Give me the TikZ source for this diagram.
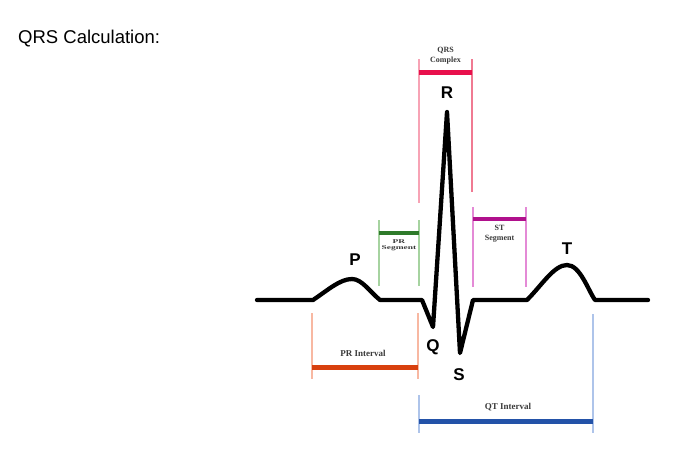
\documentclass[tikz,border=0pt]{standalone}
\usepackage{fontspec}
\setmainfont{Liberation Serif}
\newfontfamily\sansf{Liberation Sans}
\definecolor{qrsbar}{HTML}{E8104C}
\definecolor{qrsline}{HTML}{F7A3B5}
\definecolor{qrsline2}{HTML}{F07A92}
\definecolor{prsbar}{HTML}{2E7A2A}
\definecolor{prsline}{HTML}{A6D3A0}
\definecolor{stbar}{HTML}{B0108C}
\definecolor{stline}{HTML}{E48AD6}
\definecolor{pribar}{HTML}{D8400E}
\definecolor{priline}{HTML}{F8B8A2}
\definecolor{qtbar}{HTML}{2352A8}
\definecolor{qtline}{HTML}{AEC4EA}
\definecolor{lbltext}{HTML}{3A3A3A}
\begin{document}
\begin{tikzpicture}[x=1pt,y=-1pt,
  wave/.style={line width=4.3pt,line join=round,line cap=round,black},
  bar/.style={line width=5pt},
  tick/.style={line width=1.3pt},
  peak/.style={font=\sansf\bfseries\fontsize{17}{17}\selectfont,inner sep=0pt},
  tiny/.style={font=\bfseries\fontsize{#1}{#1}\selectfont,text=lbltext,align=center,inner sep=0pt}]
\useasboundingbox[fill=white] (0,0) rectangle (692,458);

\node[anchor=base west,inner sep=0pt,font=\sansf\fontsize{18.5}{18.5}\selectfont] (title) at (18,43) {QRS Calculation:};

% ECG waveform
\draw[wave] (257,300) -- (313,300)
  .. controls (328,290) and (340,279) .. (352,279)
  .. controls (362,279) and (370,292) .. (380,300)
  -- (422,300) -- (433,327) -- (447,112) -- (460,353) -- (473,300) -- (527,300)
  .. controls (542,285) and (554,265) .. (567,265)
  .. controls (580,265) and (588,290) .. (595,300) -- (648,300);

% QRS complex
\coordinate (qrsL) at (419,72);
\coordinate (qrsR) at (472,72);
\draw[tick,qrsline] (419,59) -- (419,203);
\draw[tick,qrsline2] (472,59) -- (472,192);
\draw[bar,qrsbar] (qrsL) -- (qrsR);
\node[tiny=8] (qrslbl) at (445.5,55.5) {QRS\\[1.5pt]Complex};

% PR segment
\coordinate (prsL) at (379,233);
\coordinate (prsR) at (419,233);
\draw[tick,prsline] (379,220) -- (379,286);
\draw[tick,prsline] (419,220) -- (419,286);
\draw[bar,prsbar,line width=4.5pt] (prsL) -- (prsR);
\node[tiny=6.5,xscale=1.45,yscale=0.9] (prslbl) at (399,245.5) {PR\\Segment};

% ST segment
\coordinate (stL) at (473,219);
\coordinate (stR) at (526,219);
\draw[tick,stline] (473,207) -- (473,287);
\draw[tick,stline] (526,207) -- (526,287);
\draw[bar,stbar,line width=4.5pt] (stL) -- (stR);
\node[tiny=8] (stlbl) at (499.5,234) {ST\\[2pt]Segment};

% PR interval
\coordinate (priL) at (312,367);
\coordinate (priR) at (418,367);
\draw[tick,priline] (312,313) -- (312,379);
\draw[tick,priline] (418,313) -- (418,379);
\draw[bar,pribar] (priL) -- (priR);
\node[tiny=9] (prilbl) at (363,353.5) {PR Interval};

% QT interval
\coordinate (qtL) at (419,421);
\coordinate (qtR) at (593,421);
\draw[tick,qtline] (419,395) -- (419,433);
\draw[tick,qtline] (593,314) -- (593,433);
\draw[bar,qtbar] (qtL) -- (qtR);
\node[tiny=9] (qtlbl) at (508,407) {QT Interval};

% wave letters
\node[peak] (P) at (355,260) {P};
\node[peak] (Q) at (433,347) {Q};
\node[peak] (R) at (447,93) {R};
\node[peak] (S) at (459,375) {S};
\node[peak] (T) at (567,249) {T};
\end{tikzpicture}
\end{document}
